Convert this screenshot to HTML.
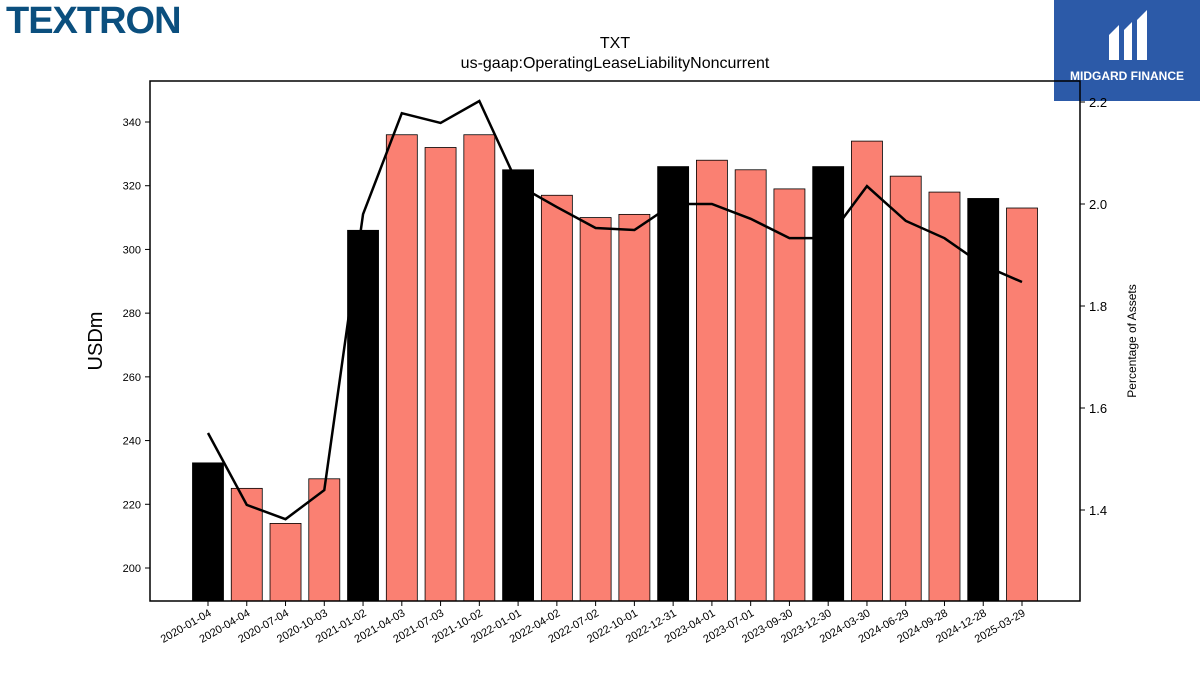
<!DOCTYPE html>
<html><head><meta charset="utf-8"><style>
body{margin:0;background:#fff;font-family:"Liberation Sans",sans-serif;}
#wrap{position:relative;width:1200px;height:675px;overflow:hidden;}
</style></head><body>
<div id="wrap">
<div style="position:absolute;left:6px;top:0px;font-weight:bold;font-size:38px;color:#0b4f7e;letter-spacing:-1px;">TEXTRON</div>
<div style="position:absolute;left:1054px;top:0;width:146px;height:101px;background:#2c5aa8;color:#fff;">
<svg width="146" height="70"><path d="M55 60 V35 L65 25 V60 Z M70 60 V30 L78 22 V60 Z M83 60 V20 L93 10 V60 Z" fill="#fff"/></svg>
<div style="position:absolute;top:69px;width:146px;text-align:center;font-size:12px;font-weight:bold;">MIDGARD FINANCE</div></div>
<svg id="chart" width="1200" height="675" style="position:absolute;left:0;top:0"></svg>
</div>
<script>
const categories=["2020-01-04","2020-04-04","2020-07-04","2020-10-03","2021-01-02","2021-04-03","2021-07-03","2021-10-02","2022-01-01","2022-04-02","2022-07-02","2022-10-01","2022-12-31","2023-04-01","2023-07-01","2023-09-30","2023-12-30","2024-03-30","2024-06-29","2024-09-28","2024-12-28","2025-03-29"];
const values=[233,225,214,228,306,336,332,336,325,317,310,311,326,328,325,319,326,334,323,318,316,313];
const pctAssets=[1.551,1.410,1.382,1.439,1.980,2.178,2.159,2.202,2.037,1.994,1.953,1.949,2.0,2.0,1.971,1.933,1.933,2.035,1.967,1.933,1.880,1.847];
const yTicks=[200,220,240,260,280,300,320,340];
const y2Ticks=[1.4,1.6,1.8,2.0,2.2];
const NS="http://www.w3.org/2000/svg";
const svg=document.getElementById('chart');
const L=150,R=1080,T=81,B=601;
const x=i=>208+i*(1022-208)/(categories.length-1);
const y=v=>568-(v-200)*(446/140);
const y2=v=>102+(2.2-v)*510;
function mk(t,a,p){const e=document.createElementNS(NS,t);for(const k in a)e.setAttribute(k,a[k]);(p||svg).appendChild(e);return e;}
values.forEach((v,i)=>{const r=mk('rect',{x:x(i)-15.5,y:y(v),width:31,height:B-y(v),fill:i%4===0?'#000':'#fa8072',stroke:'#000','stroke-width':0.8});

});
const pts=pctAssets.map((v,i)=>x(i)+','+y2(v)).join(' ');
const ln=mk('polyline',{points:pts,fill:'none',stroke:'#000','stroke-width':2.5});


const fr=mk('rect',{x:L,y:T,width:R-L,height:B-T,fill:'none',stroke:'#000','stroke-width':1.5});


yTicks.forEach(v=>{mk('line',{x1:L-5,x2:L,y1:y(v),y2:y(v),stroke:'#000'});
const t=mk('text',{x:L-9,y:y(v)+4,'text-anchor':'end','font-size':11});t.textContent=v;

});
y2Ticks.forEach(v=>{mk('line',{x1:R,x2:R+5,y1:y2(v),y2:y2(v),stroke:'#000'});
const t=mk('text',{x:R+9,y:y2(v)+5,'font-size':13});t.textContent=v.toFixed(1);

});
categories.forEach((c,i)=>{mk('line',{x1:x(i),x2:x(i),y1:B,y2:B+5,stroke:'#000'});
const t=mk('text',{x:x(i)+4,y:B+14,'text-anchor':'end','font-size':11,transform:`rotate(-30 ${x(i)+4} ${B+14})`});t.textContent=c;

});
let t=mk('text',{x:615,y:48,'text-anchor':'middle','font-size':16});t.textContent='TXT';

t=mk('text',{x:615,y:68,'text-anchor':'middle','font-size':16});t.textContent='us-gaap:OperatingLeaseLiabilityNoncurrent';

t=mk('text',{x:102,y:341,'text-anchor':'middle','font-size':20,transform:'rotate(-90 102 341)'});t.textContent='USDm';

t=mk('text',{x:1136,y:341,'text-anchor':'middle','font-size':12,transform:'rotate(-90 1136 341)'});t.textContent='Percentage of Assets';

</script>
</body></html>
